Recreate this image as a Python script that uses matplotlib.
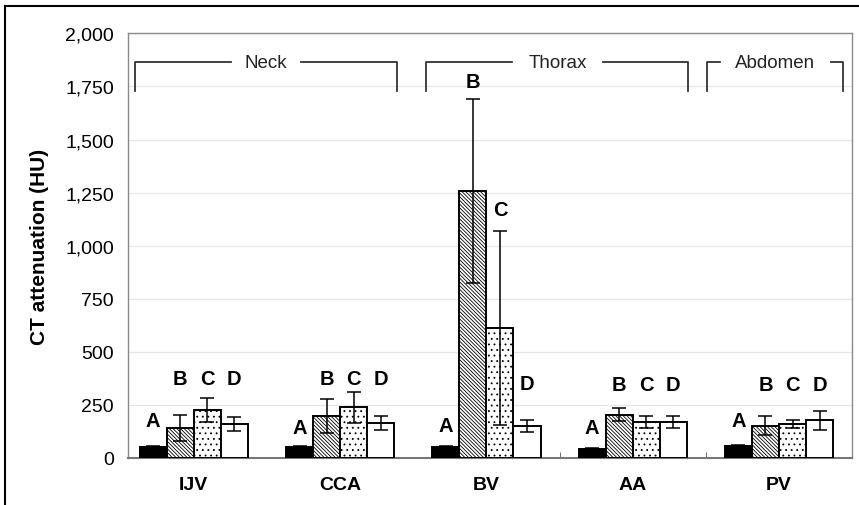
import numpy as np
import matplotlib
matplotlib.use("Agg")
import matplotlib.pyplot as plt
from matplotlib.lines import Line2D

plt.rcParams['font.family'] = ['Liberation Sans', 'DejaVu Sans']
plt.rcParams['hatch.linewidth'] = 0.6

vessels = ["IJV", "CCA", "BV", "AA", "PV"]
groups = ["A", "B", "C", "D"]

# mean CT attenuation (HU) per group, one list per vessel order above
mean_A = [50, 50, 52, 42, 55]
mean_B = [142, 199, 1258, 203, 151]
mean_C = [227, 238, 610, 170, 160]
mean_D = [160, 166, 150, 170, 178]

err_A = [5, 5, 5, 5, 5]
err_B = [60, 80, 435, 30, 45]
err_C = [57, 75, 457, 27, 19]
err_D = [32, 33, 30, 27, 45]

# y of the group letters above each bar
label_A = [175, 142, 151, 142, 175]
label_B = [376, 376, 1773, 346, 348]
label_C = [376, 376, 1172, 346, 348]
label_D = [376, 376, 350, 346, 348]

regions = ["Neck", "Thorax", "Abdomen"]
region_start = [-0.40, 1.59, 3.51]
region_end = [1.39, 3.38, 4.44]
region_gap = [0.24, 0.31, 0.38]

means = [mean_A, mean_B, mean_C, mean_D]
errs = [err_A, err_B, err_C, err_D]
labels_y = [label_A, label_B, label_C, label_D]
faces = ["black", "white", "white", "white"]
hatches = [None, "\\" * 9, "...", None]

fig = plt.figure(figsize=(8.59, 5.06), dpi=100)
ax = fig.add_axes([0.149, 0.093, 0.843, 0.839])

x = np.arange(len(vessels))
w = 0.185
for i in range(4):
    pos = x + (i - 1.5) * w
    ax.bar(pos, means[i], w, color=faces[i], edgecolor="black", linewidth=1.4,
           hatch=hatches[i], zorder=3)
    ax.errorbar(pos, means[i], yerr=errs[i], fmt="none", ecolor="black",
                elinewidth=1.1, capsize=5, capthick=1.1, zorder=4)
    for xp, yl in zip(pos, labels_y[i]):
        ax.text(xp, yl, groups[i], ha="center", va="center", fontsize=14.5,
                fontweight="bold", zorder=5)

# region brackets
top, tip = 1864, 1727
for name, a, b, half in zip(regions, region_start, region_end, region_gap):
    mid = (a + b) / 2
    ax.plot([a, a, mid - half], [tip, top, top], color="#333333", lw=1.3, zorder=5)
    ax.plot([mid + half, b, b], [top, top, tip], color="#333333", lw=1.3, zorder=5)
    ax.text(mid, top, name, ha="center", va="center", fontsize=13.5, color="#222222")

ax.set_xlim(-0.45, 4.5)
ax.set_ylim(0, 2000)
ax.set_yticks(np.arange(0, 2001, 250))
ax.set_yticklabels([f"{v:,}" for v in range(0, 2001, 250)], fontsize=14)
ax.set_xticks(x)
ax.set_xticklabels(vessels, fontsize=14, fontweight="bold")
ax.set_xticks([2.5, 3.5], minor=True)
ax.tick_params(axis="x", which="major", length=0, pad=13)
ax.tick_params(axis="x", which="minor", direction="in", length=4, color="#555555")
ax.tick_params(axis="y", length=0, pad=10)
ax.set_ylabel("CT attenuation (HU)", fontsize=15, fontweight="bold", labelpad=12)
ax.yaxis.grid(True, color="#e6e6e6", lw=0.9, zorder=0)
ax.set_axisbelow(True)
for s in ax.spines.values():
    s.set_color("#8a8a8a")
    s.set_linewidth(1.0)
ax.spines["bottom"].set_color("#777777")
ax.spines["bottom"].set_linewidth(1.5)

# outer frame of the original figure (left and top edges)
fig.add_artist(Line2D([5 / 859, 5 / 859], [0, 1 - 7 / 506], transform=fig.transFigure,
                      color="black", lw=1.5))
fig.add_artist(Line2D([5 / 859, 1], [1 - 7 / 506, 1 - 7 / 506], transform=fig.transFigure,
                      color="black", lw=1.5))

fig.savefig("out.png", dpi=100)
